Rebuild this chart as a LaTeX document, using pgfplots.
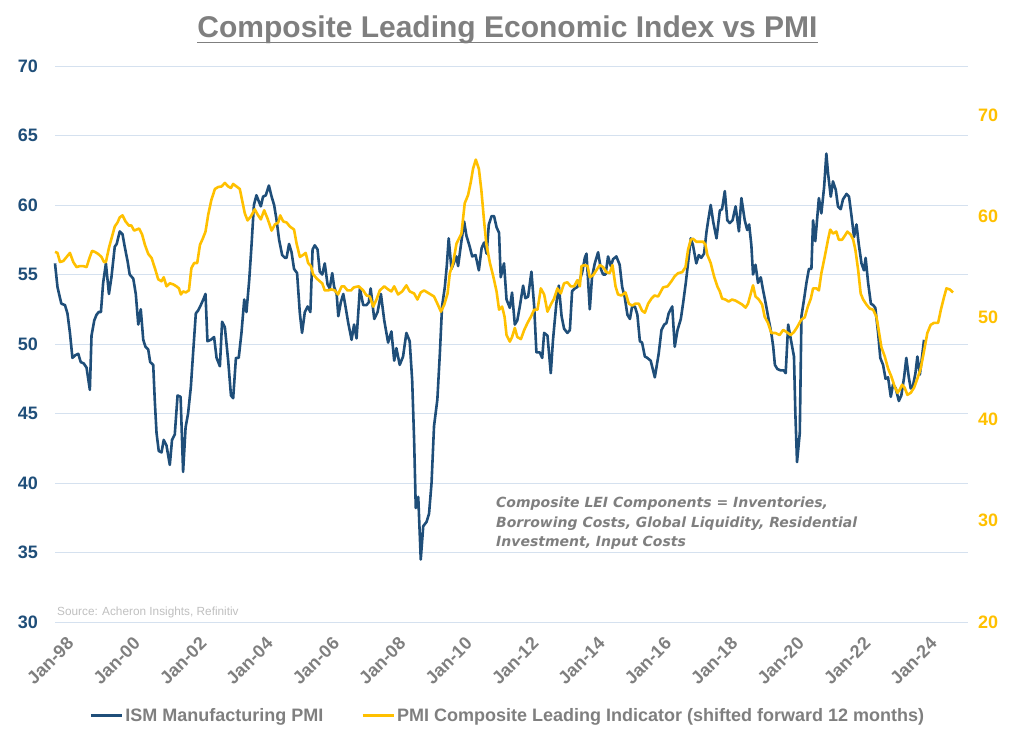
\documentclass[border=0pt]{standalone}
\usepackage{fontspec}
\setmainfont{Liberation Sans}
\newfontfamily\annofont{DejaVu Sans}
\usepackage{pgfplots}
\pgfplotsset{compat=1.18}
\definecolor{pmiblue}{HTML}{1F4E79}
\definecolor{leigold}{HTML}{FFC000}
\definecolor{txtgray}{HTML}{7F7F7F}
\definecolor{gridblue}{HTML}{D5E1EF}
\definecolor{srcgray}{HTML}{BFBFBF}
\begin{document}
\begin{tikzpicture}[x=1pt,y=1pt]
\useasboundingbox (-55,-118) rectangle (960,622);
\begin{axis}[
  at={(0,0)}, anchor=south west,
  scale only axis, width=913pt, height=556pt,
  xmin=0, xmax=330, ymin=30, ymax=70,
  axis line style={draw=none},
  major tick length=0pt,
  clip=false,
  xtick={0,24,...,312},
  xticklabels={Jan-98,Jan-00,Jan-02,Jan-04,Jan-06,Jan-08,Jan-10,Jan-12,Jan-14,Jan-16,Jan-18,Jan-20,Jan-22,Jan-24},
  xticklabel style={rotate=45, anchor=east, inner sep=0pt, font=\fontsize{18}{18}\selectfont\bfseries, text=txtgray, xshift=-2pt, yshift=-24pt},
  ytick={30,35,...,70},
  yticklabel style={anchor=east, inner sep=0pt, font=\fontsize{18}{18}\selectfont\bfseries, text=pmiblue, xshift=-17pt},
  /pgf/number format/assume math mode=true,
  ymajorgrids, grid style={gridblue, line width=0.9pt},
  legend columns=2,
  legend style={at={(0.496,-0.1685)}, anchor=center, draw=none, fill=none,
    font=\fontsize{18}{18}\selectfont\bfseries, text=txtgray,
    /tikz/every even column/.append style={column sep=36pt},
    /tikz/every odd column/.append style={inner xsep=1pt}},
  legend image code/.code={\draw[#1, line width=2.8pt] (0pt,0pt) -- (31pt,0pt);},
]
\addplot[pmiblue, line width=2.6pt, line join=round] coordinates {
(0,55.8)(0.9,54.1)(1.7,53.4)(2.3,52.9)(3.6,52.8)(4.5,52.2)(5.4,50.8)(6.3,49.0)(7.4,49.2)(8.4,49.3)
(9.3,48.7)(10.4,48.6)(11.4,48.3)(12.6,46.7)(13.2,50.6)(14.2,51.7)(15.0,52.1)(15.8,52.3)(16.6,52.3)(17.4,54.4)
(18.4,55.8)(19.5,53.6)(20.4,54.8)(21.6,57.0)(22.3,57.2)(23.4,58.1)(24.4,57.9)(25.2,57.0)(26.2,56.0)(27.0,55.0)
(28.3,54.7)(29.2,53.6)(30.1,51.4)(31.0,52.5)(31.9,50.3)(32.7,49.8)(33.7,49.6)(34.4,48.7)(35.5,48.5)(36.1,45.8)
(36.7,43.6)(37.5,42.3)(38.5,42.2)(39.3,43.1)(40.3,42.7)(41.5,41.3)(42.3,43.1)(43.3,43.5)(44.3,46.3)(45.4,46.2)
(46.3,40.8)(47.2,44.0)(48.1,45.0)(49.1,46.9)(49.9,49.3)(50.9,52.2)(51.7,52.4)(52.7,52.8)(53.6,53.2)(54.4,53.6)
(55.1,50.2)(56.3,50.3)(57.5,50.5)(58.4,49.0)(59.6,48.4)(60.4,51.6)(61.4,51.2)(62.6,48.8)(63.6,46.3)(64.4,46.1)
(65.4,49.0)(66.4,49.0)(67.4,50.8)(68.4,53.2)(69.2,52.3)(70.2,54.6)(71.0,57.0)(71.9,60.0)(72.8,60.7)(73.4,60.4)
(74.4,59.9)(75.2,60.6)(76.2,60.7)(77.3,61.4)(78.3,60.6)(79.2,60.0)(80.1,58.9)(81.0,57.5)(82.1,56.4)(83.1,56.2)
(83.7,56.2)(84.6,57.2)(85.5,56.6)(86.4,55.4)(87.5,55.1)(88.5,52.2)(89.3,50.8)(90.3,52.3)(91.3,52.7)(92.3,52.3)
(93.1,56.8)(93.9,57.1)(94.9,56.8)(95.7,55.2)(96.6,55.0)(97.5,55.8)(98.5,54.3)(99.3,54.0)(100.2,55.1)(100.9,54.1)
(101.8,53.6)(102.4,52.0)(103.3,53.0)(104.2,53.6)(105.0,52.7)(106.0,51.5)(107.2,50.3)(108.1,51.4)(109.0,50.4)(110.2,54.0)
(111.4,52.8)(112.6,52.8)(113.4,53.0)(114.1,54.0)(115.4,51.8)(116.6,52.3)(117.8,53.6)(119.0,51.7)(120.4,50.1)(121.6,50.9)
(122.6,48.8)(123.4,49.7)(124.6,48.5)(125.8,49.1)(127.0,50.8)(128.2,50.2)(129.1,47.4)(129.8,43.1)(130.4,38.2)(131.3,39.0)
(132.2,34.5)(133.1,36.9)(134.3,37.2)(135.2,37.8)(136.1,40.0)(137.0,44.1)(138.2,46.0)(139.1,49.3)(139.9,52.7)(140.9,54.1)
(141.6,55.6)(142.3,57.6)(143.3,55.4)(144.3,55.9)(145.1,56.3)(145.7,55.6)(146.9,57.4)(147.9,58.8)(148.7,57.8)(149.9,57.0)
(150.8,56.3)(152.0,56.4)(153.2,55.3)(154.2,56.9)(155.1,57.3)(156.0,56.5)(156.8,58.6)(157.8,59.2)(158.7,59.2)(159.6,58.4)
(160.5,58.0)(161.1,54.8)(162.3,55.8)(163.2,53.2)(164.4,52.6)(165.2,53.7)(166.2,51.4)(167.1,51.7)(168.0,52.7)(169.2,54.2)
(170.0,53.3)(171.0,53.4)(172.2,55.2)(173.2,52.7)(174.0,49.4)(175.2,49.4)(176.1,49.0)(176.8,50.8)(178.0,50.6)(179.2,47.9)
(180.0,50.3)(181.2,52.9)(182.1,54.2)(183.1,52.0)(184.0,51.1)(185.2,50.8)(186.1,51.0)(186.9,53.8)(187.9,54.0)(188.8,54.1)
(189.7,54.6)(190.6,55.2)(191.5,56.2)(192.1,56.5)(193.3,52.5)(194.1,54.8)(195.1,55.8)(196.3,56.6)(197.3,55.4)(198.1,55.0)
(199.0,55.0)(199.9,56.3)(200.9,55.6)(201.7,56.1)(202.9,56.3)(204.1,55.7)(205.0,54.1)(205.9,53.4)(206.9,52.1)(207.8,51.8)
(208.6,52.7)(209.6,52.7)(210.5,52.1)(211.4,50.2)(212.2,50.1)(213.2,49.1)(214.1,49.0)(215.3,48.8)(216.8,47.6)(218.2,49.3)
(219.2,51.0)(220.2,51.4)(221.0,51.5)(221.8,52.2)(223.1,52.7)(224.0,49.8)(225.0,51.0)(226.2,51.8)(227.0,52.9)(228.0,54.4)
(228.8,55.8)(229.8,57.6)(230.6,57.1)(231.8,55.8)(232.7,56.4)(233.6,56.2)(234.6,56.5)(235.5,58.1)(236.1,58.9)(237.0,60.0)
(237.9,58.8)(239.1,57.6)(240.3,59.6)(241.1,59.7)(242.1,61.0)(243.0,58.9)(243.9,58.7)(244.9,58.9)(246.0,59.9)(247.2,58.1)
(248.1,60.5)(249.3,58.9)(250.2,58.2)(250.9,58.6)(251.7,57.1)(252.3,55.0)(253.2,55.7)(254.1,54.4)(255.1,54.8)(255.9,53.9)
(256.9,52.9)(258.0,51.7)(258.9,50.8)(259.6,49.8)(260.2,48.5)(261.1,48.2)(262.3,48.1)(263.4,48.1)(264.1,47.9)(265.0,51.4)
(265.9,50.4)(267.1,49.1)(267.6,45.0)(268.2,41.5)(269.2,43.6)(269.8,52.0)(270.8,53.3)(271.6,54.4)(272.5,55.4)(273.4,55.4)
(274.0,58.9)(274.8,57.4)(276.1,60.5)(277.0,59.4)(278.0,61.3)(278.8,63.7)(279.4,62.3)(280.4,60.6)(281.2,61.7)(282.2,61.1)
(283.0,59.9)(284.0,59.7)(284.8,60.4)(286.1,60.8)(287.0,60.6)(287.9,59.2)(288.8,57.7)(289.7,58.6)(290.5,57.2)(291.5,55.8)
(292.4,55.3)(293.0,56.2)(293.9,54.4)(294.9,52.9)(295.7,52.8)(296.5,52.6)(297.5,50.8)(298.3,49.0)(299.3,48.5)(300.2,47.5)
(301.1,47.6)(302.1,46.2)(302.9,47.1)(303.9,46.8)(305.0,45.9)(305.9,46.3)(306.9,47.6)(307.7,49.0)(308.6,47.6)(309.3,46.8)
(310.1,47.0)(311.0,47.9)(311.7,49.1)(312.6,47.8)(313.4,49.1)(314.1,50.3)
};
\addlegendentry{ISM Manufacturing PMI}
\addlegendimage{leigold, line width=2.6pt}
\addlegendentry{PMI Composite Leading Indicator (shifted forward 12 months)}
\end{axis}
\begin{axis}[
  at={(0,0)}, anchor=south west,
  scale only axis, width=913pt, height=556pt,
  xmin=0, xmax=330, ymin=20, ymax=74.83,
  axis y line*=right, axis x line=none,
  axis line style={draw=none},
  major tick length=0pt,
  clip=false,
  ytick={20,30,...,70},
  yticklabel style={anchor=west, inner sep=0pt, font=\fontsize{18}{18}\selectfont\bfseries, text=leigold, xshift=10pt},
  /pgf/number format/assume math mode=true,
]
\addplot[leigold, line width=2.6pt, line join=round] coordinates {
(0,56.5)(0.9,56.4)(1.8,55.5)(3.0,55.6)(4.2,56.0)(5.4,56.4)(6.6,55.5)(7.8,55.0)(9.0,55.1)(10.2,55.1)
(11.4,55.0)(12.6,56.0)(13.4,56.6)(14.4,56.5)(15.6,56.3)(16.8,56.0)(17.7,55.5)(18.4,55.5)(19.5,56.9)(20.4,57.8)
(21.6,59.0)(22.6,59.4)(23.4,59.9)(24.4,60.1)(25.5,59.5)(26.7,59.1)(27.6,59.1)(28.6,58.6)(29.5,58.7)(30.4,58.8)
(31.5,58.2)(32.5,57.2)(33.7,56.3)(34.9,55.9)(36.1,54.9)(37.3,53.8)(38.5,53.6)(39.3,54.0)(40.3,53.1)(41.5,53.4)
(42.7,53.3)(43.9,53.1)(44.8,52.9)(45.5,52.3)(46.3,52.6)(47.3,52.5)(48.4,52.7)(49.3,54.9)(50.3,55.4)(51.4,55.4)
(52.4,57.2)(53.4,57.8)(54.4,58.5)(55.4,60.2)(56.5,61.6)(57.8,62.7)(59.0,62.9)(60.2,62.95)(61.4,63.3)(62.6,62.95)
(63.6,62.8)(64.4,63.2)(65.6,62.95)(66.8,62.7)(67.7,61.5)(68.6,60.3)(69.6,59.6)(70.8,60.0)(72.2,60.7)(73.2,60.2)
(74.4,59.7)(75.6,60.6)(76.8,59.8)(78.3,58.6)(79.5,59.2)(80.7,59.4)(81.4,60.1)(82.5,59.5)(83.7,59.4)(84.9,59.0)
(86.4,58.7)(87.3,57.35)(88.5,56.0)(89.7,56.2)(90.6,56.4)(91.5,55.4)(92.5,55.1)(93.3,54.3)(94.5,53.9)(95.7,53.6)
(96.6,53.4)(97.5,52.7)(98.7,52.7)(99.9,52.8)(101.1,52.7)(102.3,52.3)(103.6,53.1)(104.5,53.1)(105.7,52.7)(107.0,52.7)
(108.0,53.0)(109.8,53.1)(111.4,52.7)(112.6,52.2)(113.8,52.1)(115.0,51.1)(116.2,51.8)(117.4,52.7)(119.0,53.1)(120.4,52.8)
(121.6,52.6)(122.6,53.1)(124.0,52.3)(125.5,52.6)(127.0,53.2)(128.2,52.6)(129.8,52.4)(131.0,51.8)(132.2,52.5)(133.4,52.7)
(134.6,52.5)(135.8,52.3)(137.0,52.1)(138.2,51.4)(139.5,50.6)(140.7,51.3)(141.9,52.4)(142.7,54.4)(143.9,55.4)(145.1,57.3)
(146.0,57.8)(146.9,58.3)(148.1,61.3)(149.3,62.1)(150.3,63.4)(151.1,64.7)(152.1,65.6)(153.2,64.7)(154.1,62.6)(155.1,59.5)
(155.9,57.3)(157.2,55.4)(158.4,54.1)(159.6,52.6)(160.5,50.8)(161.6,51.1)(162.5,50.1)(163.2,48.3)(164.4,47.65)(165.2,48.1)
(166.2,49.0)(167.1,48.1)(168.4,47.9)(169.6,48.8)(170.8,49.5)(172.0,50.1)(173.2,50.8)(174.4,50.8)(175.6,52.9)(176.8,52.3)
(178.0,50.6)(179.2,51.3)(180.4,51.9)(181.6,52.9)(182.8,52.4)(184.0,53.4)(185.2,53.5)(186.4,53.1)(187.6,53.1)(188.8,53.7)
(189.7,53.1)(190.3,55.1)(191.5,55.2)(192.5,55.1)(193.3,54.0)(194.5,54.2)(195.7,54.7)(196.9,55.2)(198.1,55.0)(199.3,54.5)
(200.5,54.4)(201.5,55.2)(202.6,53.1)(203.5,52.3)(204.7,52.2)(206.2,52.5)(207.4,51.4)(208.6,51.2)(209.8,51.4)(211.0,51.4)
(212.2,50.7)(213.2,50.5)(214.4,51.4)(215.6,51.9)(216.7,52.2)(218.0,52.1)(219.8,53.0)(221.4,53.1)(222.8,53.6)(224.0,54.1)
(225.2,54.4)(226.7,54.5)(227.9,55.0)(228.8,56.7)(229.8,57.7)(230.6,57.8)(231.8,57.5)(233.0,57.5)(234.3,57.5)(235.1,57.2)
(235.8,56.2)(237.0,55.4)(238.2,54.1)(239.4,53.1)(240.3,52.6)(241.1,51.9)(242.3,51.8)(243.5,51.6)(244.7,51.8)(245.9,51.7)
(247.2,51.5)(248.4,51.3)(249.6,51.0)(250.5,51.4)(251.5,52.4)(252.3,53.2)(253.2,52.1)(254.4,51.8)(255.6,51.3)(256.5,50.1)
(257.7,49.5)(258.9,48.5)(260.4,48.5)(261.9,48.3)(263.2,48.8)(264.4,48.6)(265.9,48.3)(267.1,48.6)(268.3,49.1)(269.7,49.8)
(271.0,50.05)(272.1,51.1)(273.2,51.9)(274.0,52.9)(275.2,52.9)(276.1,52.7)(277.0,54.4)(278.2,56.0)(279.4,57.7)(280.2,58.7)
(281.2,58.3)(282.4,58.5)(283.3,57.7)(284.5,57.7)(285.5,58.1)(286.4,58.5)(287.6,58.2)(288.5,57.7)(289.3,56.7)(290.3,54.7)
(291.2,52.4)(292.1,51.8)(293.3,51.3)(294.5,50.9)(295.7,50.8)(296.9,50.1)(297.7,48.8)(298.7,47.1)(299.9,46.2)(301.1,45.0)
(302.3,44.2)(303.5,43.2)(304.5,42.6)(305.3,42.9)(306.2,43.4)(307.1,43.1)(308.1,42.4)(309.3,42.6)(310.5,43.1)(311.7,44.0)
(312.9,45.0)(314.1,46.7)(315.3,48.5)(316.5,49.3)(317.7,49.5)(319.2,49.5)(320.2,50.8)(321.4,52.1)(322.2,52.9)(323.4,52.8)
(324.6,52.5)
};
\end{axis}
\node[anchor=base, inner sep=0pt, font=\fontsize{30}{30}\selectfont\bfseries, text=txtgray] (title) at (452.5,584) {Composite Leading Economic Index vs PMI};
\draw[txtgray, line width=1.6pt] ([yshift=-4.5pt]title.base west) -- ([yshift=-4.5pt]title.base east);
\node[anchor=west, inner sep=0pt, font=\fontsize{11.8}{11.8}\selectfont, text=srcgray] at (2,10) {Source: Acheron Insights, Refinitiv};
\node[anchor=north west, align=left, inner sep=0pt, font=\annofont\fontsize{14}{19.5}\selectfont\bfseries\itshape, text=txtgray] at (441,125) {Composite LEI Components = Inventories,\\Borrowing Costs, Global Liquidity, Residential\\Investment, Input Costs};
\end{tikzpicture}
\end{document}
